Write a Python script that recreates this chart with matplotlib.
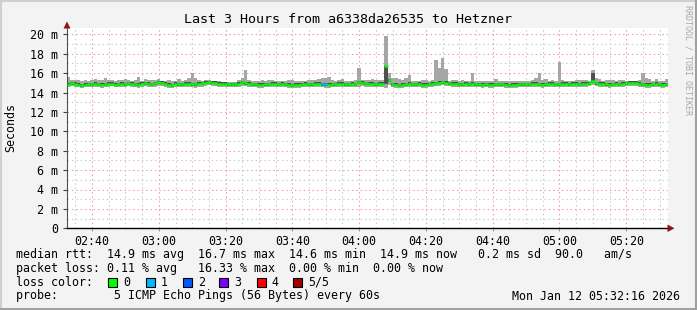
import numpy as np
import matplotlib
matplotlib.use("Agg")
import matplotlib.pyplot as plt
from matplotlib.patches import Rectangle, Polygon
from matplotlib.lines import Line2D

# ---------------- data (one value per minute, 180 minutes) ----------------
rtt_median = [
    14.8, 15.0, 14.9, 14.8, 14.75, 14.8, 14.85, 14.85, 14.9, 14.85,
    14.8, 14.85, 14.9, 14.9, 14.8, 14.85, 14.9, 14.85, 14.95, 14.9,
    14.85, 14.8, 14.9, 14.95, 14.9, 14.85, 14.95, 15.05, 15.0, 14.9,
    14.8, 14.75, 14.9, 14.85, 14.85, 14.9, 14.9, 14.85, 14.85, 14.9,
    14.95, 15.0, 15.05, 15.0, 15.0, 14.9, 14.9, 14.9, 14.85, 14.85,
    14.85, 14.9, 15.05, 14.95, 14.9, 14.85, 14.85, 14.8, 14.8, 14.85,
    14.85, 14.9, 14.9, 14.85, 14.9, 14.85, 14.8, 14.75, 14.8, 14.8,
    14.85, 14.9, 14.85, 14.85, 14.9, 14.9, 14.85, 14.85, 14.8, 14.85,
    14.85, 14.9, 14.9, 14.85, 14.85, 14.9, 14.85, 15.05, 15.0, 14.95,
    14.9, 14.9, 14.85, 14.9, 14.9, 16.7, 15.25, 14.85, 14.8, 14.75,
    14.8, 14.85, 14.9, 14.85, 14.85, 14.9, 14.8, 14.8, 14.85, 14.9,
    14.95, 15.0, 15.05, 15.0, 14.95, 14.9, 14.9, 14.85, 14.85, 14.9,
    14.85, 14.9, 14.85, 14.85, 14.8, 14.85, 14.8, 14.8, 14.85, 14.85,
    14.85, 14.8, 14.75, 14.8, 14.8, 14.85, 14.85, 14.85, 14.85, 14.9,
    14.9, 14.85, 14.8, 14.85, 14.9, 14.9, 14.85, 14.85, 14.9, 14.9,
    14.85, 14.9, 14.9, 14.85, 14.9, 14.9, 14.95, 15.15, 14.95, 14.9,
    14.9, 14.85, 14.8, 14.85, 14.9, 14.85, 14.9, 14.95, 15.0, 15.0,
    15.0, 14.9, 14.85, 14.8, 14.8, 14.85, 14.9, 14.85, 14.8, 14.85,
]
rtt_max = [
    15.6, 15.3, 15.3, 15.3, 15.2, 15.3, 15.2, 15.3, 15.4, 15.3,
    15.3, 15.5, 15.3, 15.3, 15.2, 15.3, 15.3, 15.4, 15.3, 15.2,
    15.3, 15.6, 15.2, 15.4, 15.3, 15.3, 15.3, 15.4, 15.2, 15.2,
    15.3, 15.2, 15.2, 15.4, 15.2, 15.3, 15.5, 16.0, 15.5, 15.3,
    15.2, 15.3, 15.3, 15.2, 15.2, 15.2, 15.1, 15.1, 15.1, 15.1,
    15.1, 15.3, 15.5, 16.3, 15.3, 15.2, 15.2, 15.2, 15.3, 15.2,
    15.3, 15.3, 15.2, 15.2, 15.2, 15.2, 15.3, 15.3, 15.2, 15.2,
    15.2, 15.2, 15.3, 15.3, 15.3, 15.4, 15.5, 15.5, 15.6, 15.3,
    15.2, 15.3, 15.4, 15.2, 15.2, 15.2, 15.3, 16.5, 15.3, 15.3,
    15.3, 15.4, 15.3, 15.3, 15.3, 19.8, 16.0, 15.5, 15.5, 15.4,
    15.3, 15.5, 15.8, 15.2, 15.2, 15.2, 15.3, 15.3, 15.2, 15.3,
    17.3, 16.5, 17.6, 16.4, 15.2, 15.3, 15.3, 15.2, 15.3, 15.2,
    15.2, 16.0, 15.2, 15.2, 15.2, 15.2, 15.2, 15.2, 15.4, 15.2,
    15.2, 15.2, 15.2, 15.2, 15.2, 15.2, 15.2, 15.2, 15.2, 15.3,
    15.5, 16.0, 15.3, 15.4, 15.2, 15.3, 15.2, 17.1, 15.3, 15.2,
    15.2, 15.2, 15.3, 15.3, 15.3, 15.3, 15.2, 16.3, 15.5, 15.4,
    15.2, 15.3, 15.3, 15.3, 15.2, 15.3, 15.3, 15.2, 15.2, 15.2,
    15.2, 15.3, 16.0, 15.5, 15.4, 15.2, 15.4, 15.2, 15.2, 15.4,
]
rtt_min = [
    14.6, 14.65, 14.6, 14.55, 14.5, 14.55, 14.6, 14.6, 14.6, 14.55,
    14.5, 14.6, 14.6, 14.65, 14.55, 14.6, 14.6, 14.55, 14.65, 14.6,
    14.55, 14.5, 14.6, 14.65, 14.6, 14.55, 14.6, 14.7, 14.7, 14.6,
    14.5, 14.45, 14.6, 14.55, 14.55, 14.6, 14.6, 14.55, 14.5, 14.6,
    14.6, 14.7, 14.75, 14.7, 14.7, 14.6, 14.6, 14.6, 14.55, 14.55,
    14.55, 14.6, 14.7, 14.65, 14.6, 14.55, 14.55, 14.5, 14.5, 14.55,
    14.55, 14.6, 14.6, 14.55, 14.6, 14.55, 14.5, 14.45, 14.5, 14.5,
    14.55, 14.6, 14.55, 14.55, 14.6, 14.6, 14.55, 14.5, 14.5, 14.55,
    14.55, 14.6, 14.6, 14.55, 14.55, 14.6, 14.55, 14.6, 14.65, 14.6,
    14.6, 14.6, 14.55, 14.6, 14.6, 14.5, 14.8, 14.55, 14.5, 14.45,
    14.5, 14.55, 14.6, 14.55, 14.55, 14.6, 14.5, 14.5, 14.55, 14.6,
    14.65, 14.7, 14.75, 14.7, 14.65, 14.6, 14.6, 14.55, 14.55, 14.6,
    14.55, 14.6, 14.55, 14.55, 14.5, 14.55, 14.5, 14.5, 14.55, 14.55,
    14.55, 14.5, 14.45, 14.5, 14.5, 14.55, 14.55, 14.55, 14.55, 14.6,
    14.6, 14.55, 14.5, 14.55, 14.6, 14.6, 14.55, 14.55, 14.6, 14.6,
    14.55, 14.6, 14.6, 14.55, 14.6, 14.6, 14.65, 14.8, 14.65, 14.6,
    14.6, 14.55, 14.5, 14.55, 14.6, 14.55, 14.6, 14.65, 14.7, 14.7,
    14.7, 14.6, 14.55, 14.5, 14.5, 14.55, 14.6, 14.55, 14.5, 14.55,
]
rtt_inner_lo = [
    14.65, 14.8, 14.75, 14.65, 14.6, 14.65, 14.7, 14.7, 14.75, 14.7,
    14.65, 14.7, 14.75, 14.75, 14.65, 14.7, 14.75, 14.7, 14.8, 14.75,
    14.7, 14.65, 14.75, 14.8, 14.75, 14.7, 14.8, 14.9, 14.85, 14.75,
    14.65, 14.6, 14.75, 14.7, 14.7, 14.75, 14.75, 14.7, 14.7, 14.75,
    14.8, 14.85, 14.9, 14.85, 14.85, 14.75, 14.75, 14.75, 14.7, 14.7,
    14.7, 14.75, 14.9, 14.8, 14.75, 14.7, 14.7, 14.65, 14.65, 14.7,
    14.7, 14.75, 14.75, 14.7, 14.75, 14.7, 14.65, 14.6, 14.65, 14.65,
    14.7, 14.75, 14.7, 14.7, 14.75, 14.75, 14.7, 14.7, 14.65, 14.7,
    14.7, 14.75, 14.75, 14.7, 14.7, 14.75, 14.7, 14.9, 14.85, 14.8,
    14.75, 14.75, 14.7, 14.75, 14.75, 14.9, 15.05, 14.7, 14.65, 14.6,
    14.65, 14.7, 14.75, 14.7, 14.7, 14.75, 14.65, 14.65, 14.7, 14.75,
    14.8, 14.85, 14.9, 14.85, 14.8, 14.75, 14.75, 14.7, 14.7, 14.75,
    14.7, 14.75, 14.7, 14.7, 14.65, 14.7, 14.65, 14.65, 14.7, 14.7,
    14.7, 14.65, 14.6, 14.65, 14.65, 14.7, 14.7, 14.7, 14.7, 14.75,
    14.75, 14.7, 14.65, 14.7, 14.75, 14.75, 14.7, 14.7, 14.75, 14.75,
    14.7, 14.75, 14.75, 14.7, 14.75, 14.75, 14.8, 14.95, 14.8, 14.75,
    14.75, 14.7, 14.65, 14.7, 14.75, 14.7, 14.75, 14.8, 14.85, 14.85,
    14.85, 14.75, 14.7, 14.65, 14.65, 14.7, 14.75, 14.7, 14.65, 14.7,
]
rtt_inner_hi = [
    14.95, 15.1, 15.05, 14.95, 14.9, 14.95, 15.0, 15.0, 15.05, 15.0,
    14.95, 15.0, 15.05, 15.05, 14.95, 15.0, 15.05, 15.0, 15.1, 15.05,
    15.0, 14.95, 15.05, 15.1, 15.05, 15.0, 15.1, 15.2, 15.15, 15.05,
    14.95, 14.9, 15.05, 15.0, 15.0, 15.05, 15.05, 15.0, 15.0, 15.05,
    15.1, 15.15, 15.2, 15.15, 15.15, 15.05, 15.05, 15.05, 15.0, 15.0,
    15.0, 15.05, 15.2, 15.1, 15.05, 15.0, 15.0, 14.95, 14.95, 15.0,
    15.0, 15.05, 15.05, 15.0, 15.05, 15.0, 14.95, 14.9, 14.95, 14.95,
    15.0, 15.05, 15.0, 15.0, 15.05, 15.05, 15.0, 15.0, 14.95, 15.0,
    15.0, 15.05, 15.05, 15.0, 15.0, 15.05, 15.0, 15.2, 15.15, 15.1,
    15.05, 15.05, 15.0, 15.05, 15.05, 16.7, 15.4, 15.0, 14.95, 14.9,
    14.95, 15.0, 15.05, 15.0, 15.0, 15.05, 14.95, 14.95, 15.0, 15.05,
    15.1, 15.15, 15.2, 15.15, 15.1, 15.05, 15.05, 15.0, 15.0, 15.05,
    15.0, 15.05, 15.0, 15.0, 14.95, 15.0, 14.95, 14.95, 15.0, 15.0,
    15.0, 14.95, 14.9, 14.95, 14.95, 15.0, 15.0, 15.0, 15.0, 15.05,
    15.05, 15.0, 14.95, 15.0, 15.05, 15.05, 15.0, 15.0, 15.05, 15.05,
    15.0, 15.05, 15.05, 15.0, 15.05, 15.05, 15.1, 16.0, 15.1, 15.05,
    15.05, 15.0, 14.95, 15.0, 15.05, 15.0, 15.05, 15.1, 15.15, 15.15,
    15.15, 15.05, 15.0, 14.95, 14.95, 15.0, 15.05, 15.0, 14.95, 15.0,
]
lost_pings = [0] * 76 + [1, 1] + [0] * 102

x_tick_labels = ["02:40", "03:00", "03:20", "03:40", "04:00",
                 "04:20", "04:40", "05:00", "05:20"]
y_tick_values = [0, 2, 4, 6, 8, 10, 12, 14, 16, 18, 20]
y_tick_labels = ["0", "2 m", "4 m", "6 m", "8 m", "10 m", "12 m",
                 "14 m", "16 m", "18 m", "20 m"]

loss_names = ["0", "1", "2", "3", "4", "5/5"]
loss_colors = ["#00ff00", "#00b8ff", "#0059ff", "#7e00ff", "#ff0000", "#a00000"]

title = "Last 3 Hours from a6338da26535 to Hetzner"
line_median = ("median rtt:  14.9 ms avg  16.7 ms max  14.6 ms min  "
               "14.9 ms now   0.2 ms sd  90.0   am/s")
line_loss = "packet loss: 0.11 % avg   16.33 % max  0.00 % min  0.00 % now"
line_probe = "probe:        5 ICMP Echo Pings (56 Bytes) every 60s"
stamp = "Mon Jan 12 05:32:16 2026"

# ---------------- drawing ----------------
W, H = 697, 310
MONO = "DejaVu Sans Mono"
fig = plt.figure(figsize=(W / 100, H / 100), dpi=100, facecolor="#f3f3f3")

def fx(px):
    return px / W

def fy(py):
    return 1 - py / H

# frame shading
fig.add_artist(Line2D([fx(0), fx(W)], [fy(0.8), fy(0.8)], color="#cfcfcf", lw=1.5))
fig.add_artist(Line2D([fx(0.8), fx(0.8)], [fy(0), fy(H)], color="#cfcfcf", lw=1.5))
fig.add_artist(Line2D([fx(W - 1.5), fx(W - 1.5)], [fy(0), fy(H)], color="#a0a0a0", lw=2.2))
fig.add_artist(Line2D([fx(0), fx(W)], [fy(H - 1.5), fy(H - 1.5)], color="#a0a0a0", lw=2.2))

x0, x1, ytop, ybot = 67, 668, 27.5, 228.3
ax = fig.add_axes([fx(x0), fy(ybot), (x1 - x0) / W, (ybot - ytop) / H])
ax.set_facecolor("white")
n = len(rtt_median)
ax.set_xlim(0, n)
ax.set_ylim(0, (ybot - ytop) / 9.7)

# grid
major_x = [7.5 + 20 * i for i in range(len(x_tick_labels))]
minor_x = [v for v in np.arange(2.5, n, 5) if v not in major_x]
ax.set_xticks(major_x)
ax.set_xticklabels(x_tick_labels)
ax.set_xticks(minor_x, minor=True)
ax.set_yticks(y_tick_values)
ax.set_yticklabels(y_tick_labels)
ax.set_yticks(np.arange(1, 21, 2), minor=True)
ax.grid(which="minor", color="#c8c8c8", linestyle=(0, (1.4, 2.8)), lw=0.75)
ax.grid(which="major", color="#f09a9a", linestyle=(0, (1.4, 2.8)), lw=0.75)
ax.set_axisbelow(True)

for lab in ax.get_xticklabels() + ax.get_yticklabels():
    lab.set_fontfamily(MONO)
    lab.set_fontsize(8.4)
    lab.set_color("#000000")
ax.tick_params(axis="y", which="major", length=3, width=0.8, color="#404040",
               pad=3.2, direction="out")
ax.tick_params(axis="y", which="minor", length=0)
ax.tick_params(axis="x", which="major", length=2, width=0.8, color="#e08080",
               pad=2.5, direction="out")
ax.tick_params(axis="x", which="minor", length=0)

for s in ("top", "right"):
    ax.spines[s].set_visible(False)
ax.spines["left"].set_color("#505050")
ax.spines["left"].set_linewidth(0.8)
ax.spines["bottom"].set_color("#000000")
ax.spines["bottom"].set_linewidth(1.0)

# smoke
xe = np.arange(n + 1)
def ext(a):
    return np.append(np.asarray(a, float), a[-1])

ax.fill_between(xe, ext(rtt_min), ext(rtt_max), step="post",
                color="#a6a6a6", lw=0, zorder=2)
ax.fill_between(xe, ext(rtt_inner_lo), ext(rtt_inner_hi), step="post",
                color="#505050", lw=0, zorder=3)
# median: horizontal segments per minute, coloured by loss
med = np.asarray(rtt_median, float)
cols = [loss_colors[lp] for lp in lost_pings]
ax.hlines(med, np.arange(n), np.arange(n) + 1, colors=cols, lw=1.8, zorder=4)
# thin connectors only where the step is small
for i in range(n - 1):
    if abs(med[i + 1] - med[i]) < 0.3:
        ax.vlines(i + 1, min(med[i], med[i + 1]), max(med[i], med[i + 1]),
                  color=cols[i + 1], lw=1.2, zorder=4)

# arrows
fig.add_artist(Polygon([[fx(63.5), fy(28.5)], [fx(70.5), fy(28.5)], [fx(67), fy(21.5)]],
                       closed=True, transform=fig.transFigure,
                       facecolor="#8b1515", edgecolor="none"))
fig.add_artist(Polygon([[fx(667.5), fy(224.5)], [fx(667.5), fy(232)], [fx(674.5), fy(228.3)]],
                       closed=True, transform=fig.transFigure,
                       facecolor="#8b1515", edgecolor="none"))

# texts
fig.text(fx(348), fy(19.3), title, family=MONO, fontsize=9.6,
         ha="center", va="center")
fig.text(fx(11), fy(128), "Seconds", family=MONO, fontsize=8.4,
         rotation=90, ha="center", va="center")
fig.text(fx(688), fy(5), "RRDTOOL / TOBI OETIKER", family=MONO, fontsize=6.0,
         rotation=270, ha="center", va="top", color="#a8a8a8")

fs = 8.4
fig.text(fx(16), fy(254.3), line_median, family=MONO, fontsize=fs, va="center")
fig.text(fx(16), fy(268.3), line_loss, family=MONO, fontsize=fs, va="center")
fig.text(fx(16), fy(282), "loss color:", family=MONO, fontsize=fs, va="center")
fig.text(fx(16), fy(296), line_probe, family=MONO, fontsize=fs, va="center")
fig.text(fx(680.5), fy(296), stamp, family=MONO, fontsize=fs, va="center", ha="right")

sq_x = [108, 145.7, 182.7, 219.3, 256.7, 293.3]
for sx, name, col in zip(sq_x, loss_names, loss_colors):
    fig.add_artist(Rectangle((fx(sx), fy(286.5)), 9 / W, 9 / H,
                             transform=fig.transFigure, facecolor=col,
                             edgecolor="#000000", lw=0.8))
    fig.text(fx(sx + 15), fy(282), name, family=MONO, fontsize=fs, va="center")

fig.savefig("out.png", dpi=100, facecolor=fig.get_facecolor())
